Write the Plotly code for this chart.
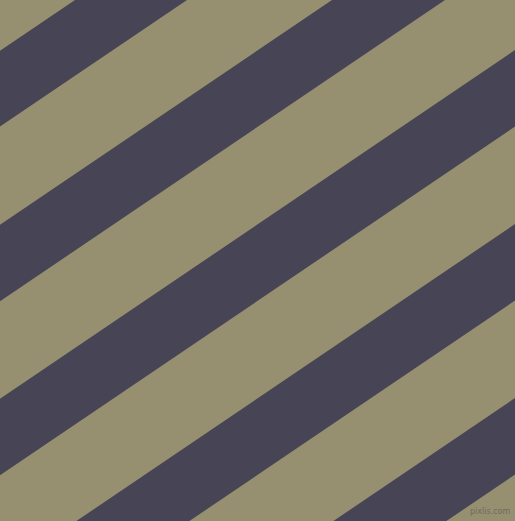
import numpy as np
import plotly.graph_objects as go

# ---------------------------
# Data
# ---------------------------
W, H = 515, 521
SLOPE = 0.677                      # dy/dx of the stripe edges (~34 deg)
DARK_START = [-182, 75, 332, 589, 846, 1103]   # where each dark band starts on the top edge
DARK_END = [-70, 187, 445, 702, 959, 1216]     # where it ends on the top edge

OLIVE = "#968f70"
DARK = "#474555"

# ---------------------------
# Figure
# ---------------------------
fig = go.Figure()

for a, b in zip(DARK_START, DARK_END):
    shift = H / SLOPE
    xs = [a, b, b - shift, a - shift, a]
    ys = [0, 0, H, H, 0]
    fig.add_trace(go.Scatter(
        x=xs, y=ys,
        mode="lines",
        fill="toself",
        fillcolor=DARK,
        line=dict(width=0, color=DARK),
        hoverinfo="skip",
        showlegend=False,
    ))

fig.add_annotation(
    x=1, y=0, xref="paper", yref="paper",
    xanchor="right", yanchor="bottom",
    xshift=-3, yshift=3,
    text="pixlis.com",
    showarrow=False,
    font=dict(family="DejaVu Sans", size=8, color="#6f6c5e"),
)

fig.update_layout(
    width=W,
    height=H,
    margin=dict(l=0, r=0, t=0, b=0),
    plot_bgcolor=OLIVE,
    paper_bgcolor=OLIVE,
    xaxis=dict(visible=False, range=[0, W], fixedrange=True),
    yaxis=dict(visible=False, range=[H, 0], fixedrange=True),
)

# drop the page's default body margin so the figure fills the window
fig.write_html(
    "out.html",
    config={"displayModeBar": False},
    post_script="document.body.style.margin='0';document.body.style.overflow='hidden';",
)
